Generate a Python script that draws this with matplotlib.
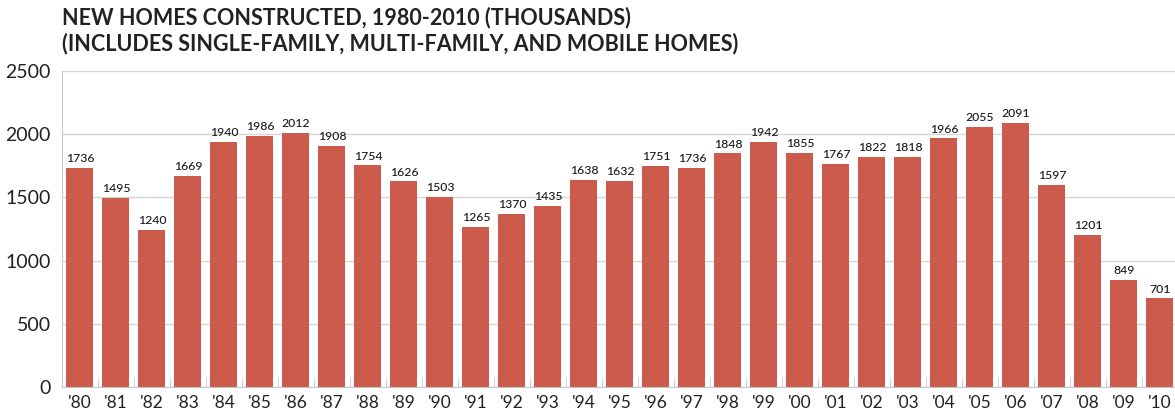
import numpy as np
import matplotlib.pyplot as plt

years = ["'80", "'81", "'82", "'83", "'84", "'85", "'86", "'87", "'88", "'89",
         "'90", "'91", "'92", "'93", "'94", "'95", "'96", "'97", "'98", "'99",
         "'00", "'01", "'02", "'03", "'04", "'05", "'06", "'07", "'08", "'09", "'10"]
homes = [1736, 1495, 1240, 1669, 1940, 1986, 2012, 1908, 1754, 1626,
         1503, 1265, 1370, 1435, 1638, 1632, 1751, 1736, 1848, 1942,
         1855, 1767, 1822, 1818, 1966, 2055, 2091, 1597, 1201, 849, 701]
yticks = [0, 500, 1000, 1500, 2000, 2500]

plt.rcParams['font.family'] = ['Lato', 'DejaVu Sans']

fig = plt.figure(figsize=(11.75, 4.15), dpi=100)
ax = fig.add_axes([62 / 1175, 1 - 387 / 415, 1 - 62 / 1175, (387 - 71) / 415])

x = np.arange(len(years))
bars = ax.bar(x, homes, width=0.75, color='#cd5b4c', zorder=3)
for xi, v in zip(x, homes):
    ax.text(xi, v + 30, str(v), ha='center', va='bottom', fontsize=8.8,
            fontweight='medium', color='#1a1a1a', zorder=4)

ax.set_ylim(0, 2500)
ax.set_xlim(-0.5, 30.42)
ax.set_yticks(yticks)
ax.set_yticklabels([str(t) for t in yticks], fontsize=14, color='#222222')
ax.set_xticks(x)
ax.set_xticklabels(years, fontsize=12.5, color='#222222')
ax.set_xticks(x[:-1] + 0.5, minor=True)
ax.tick_params(axis='x', which='major', length=0, pad=6)
ax.tick_params(axis='x', which='minor', length=7, direction='in', color='#cccccc')
ax.tick_params(axis='y', length=0, pad=8)
ax.grid(axis='y', color='#d6d6d6', linewidth=1, zorder=0)

for s in ['top', 'right']:
    ax.spines[s].set_visible(False)
for s in ['left', 'bottom']:
    ax.spines[s].set_color('#c8c8c8')

fig.text(62 / 1175, 1 - 7 / 415,
         'NEW HOMES CONSTRUCTED, 1980-2010 (THOUSANDS)\n(INCLUDES SINGLE-FAMILY, MULTI-FAMILY, AND MOBILE HOMES)',
         ha='left', va='top', fontsize=15.5, fontweight='bold', color='#222222', linespacing=1.2)

fig.savefig('out.png', dpi=100)
